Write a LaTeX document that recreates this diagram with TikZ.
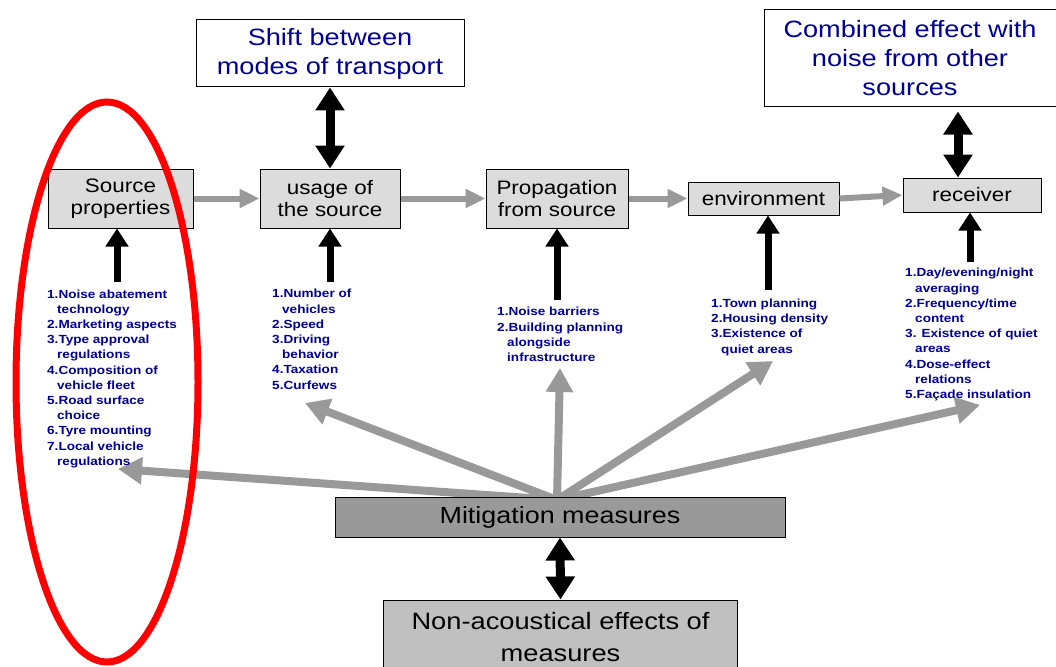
\documentclass[tikz,border=0pt]{standalone}
\usepackage{fontspec}
\setmainfont[FakeStretch=1.15]{Liberation Sans}
\usetikzlibrary{arrows.meta}
\definecolor{lblue}{RGB}{0,0,153}
\definecolor{boxgray}{RGB}{220,220,220}
\definecolor{arrgray}{RGB}{153,153,153}
\definecolor{mitgray}{RGB}{153,153,153}
\definecolor{nongray}{RGB}{192,192,192}
\pgfdeclarelayer{bg}
\pgfsetlayers{bg,main}
\begin{document}
\begin{tikzpicture}[x=1pt,y=-1pt,
  box/.style={draw=black, line width=1pt, fill=boxgray, inner sep=0pt, align=center, font=\fontsize{19.5}{22.5}\selectfont},
  wbox/.style={draw=black, line width=1pt, fill=white, inner sep=0pt, align=center, text=lblue, font=\fontsize{23.6}{29}\selectfont},
  garr/.style={draw=arrgray, line width=6pt, -{Triangle[width=18pt,length=20pt]}},
  marr/.style={draw=arrgray, line width=8pt, -{Triangle[width=26pt,length=24pt]}},
  barr/.style={draw=black, line width=7pt, -{Triangle[width=22pt,length=18pt]}},
  dbl/.style={draw=black, line width=9pt, {Triangle[width=28pt,length=23pt]}-{Triangle[width=28pt,length=23pt]}},
  lst/.style={text=lblue, font=\fontsize{11.8}{15.2}\selectfont\bfseries, align=left, inner sep=0pt, anchor=base west},
  ring/.style={draw=red, line width=7pt}
]
\useasboundingbox (0,0) rectangle (1056,666);
\clip (0,0) rectangle (1056,666);

% boxes
\node[box, minimum width=145pt, minimum height=59pt] (src) at (120.5,198.5) {Source\\properties};
\node[box, minimum width=140pt, minimum height=59pt] (use) at (330,198.5) {usage of\\the source};
\node[box, minimum width=142pt, minimum height=59pt] (prop) at (557,198.5) {Propagation\\from source};
\node[box, minimum width=151pt, minimum height=33pt] (env) at (763.5,198.5) {environment};
\node[box, minimum width=138pt, minimum height=34pt] (rec) at (972,195) {receiver};
\node[wbox, minimum width=268pt, minimum height=67pt] (shift) at (330,53.5) {Shift between\\modes of transport};
\node[wbox, minimum width=292pt, minimum height=97pt] (comb) at (910,58.5) {Combined effect with\\noise from other\\sources};
\node[box, fill=mitgray, minimum width=450pt, minimum height=40pt, font=\fontsize{23.4}{28}\selectfont] (mit) at (560,517) {Mitigation measures};
\node[box, fill=nongray, minimum width=354pt, minimum height=74pt, font=\fontsize{23.7}{32}\selectfont] (non) at (560.5,637) {Non-acoustical effects of\\measures};

% lists (anchored at the baseline of their last line)
\node[lst] (l1) at (47,465.2) {1.Noise abatement\\\hspace*{10pt}technology\\2.Marketing aspects\\3.Type approval\\\hspace*{10pt}regulations\\4.Composition of\\\hspace*{10pt}vehicle fleet\\5.Road surface\\\hspace*{10pt}choice\\6.Tyre mounting\\7.Local vehicle\\\hspace*{10pt}regulations};
\node[lst] (l2) at (272,389) {1.Number of\\\hspace*{10pt}vehicles\\2.Speed\\3.Driving\\\hspace*{10pt}behavior\\4.Taxation\\5.Curfews};
\node[lst] (l3) at (497,361.5) {1.Noise barriers\\2.Building planning\\\hspace*{10pt}alongside\\\hspace*{10pt}infrastructure};
\node[lst] (l4) at (711,353) {1.Town planning\\2.Housing density\\3.Existence of\\\hspace*{10pt}quiet areas};
\node[lst] (l5) at (905,398.5) {1.Day/evening/night\\\hspace*{10pt}averaging\\2.Frequency/time\\\hspace*{10pt}content\\3. Existence of quiet\\\hspace*{10pt}areas\\4.Dose-effect\\\hspace*{10pt}relations\\5.Façade insulation};

% flow arrows
\draw[garr] (src.east) -- (use.west);
\draw[garr] (use.east) -- (prop.west);
\draw[garr] (prop.east) -- (env.west);
\draw[garr] (env.east) -- (rec.west);

% double arrows
\draw[dbl] ([yshift=-4pt]comb.south -| 958,0) -- (rec.north -| 958,0);
\draw[dbl] (shift.south) -- (use.north);
\draw[dbl] (mit.south) -- (non.north);

% list to box arrows
\coordinate (a1) at (117,282);
\coordinate (a2) at (330,282);
\coordinate (a3) at (557,300);
\coordinate (a4) at (768,290);
\coordinate (a5) at (970,262);
\draw[barr] (a1) -- (a1 |- src.south);
\draw[barr] (a2) -- (a2 |- use.south);
\draw[barr] (a3) -- (a3 |- prop.south);
\draw[barr] (a4) -- (a4 |- env.south);
\draw[barr] (a5) -- (a5 |- rec.south);

% mitigation arrows
\coordinate (m0) at (557,500);
\coordinate (t1) at (118,469);
\coordinate (t2) at (305,403);
\coordinate (t3) at (560,368);
\coordinate (t4) at (773,361);
\coordinate (t5) at (980,405);
\begin{pgfonlayer}{bg}
\draw[marr] (m0) -- (t1);
\draw[marr] (m0) -- (t2);
\draw[marr] (m0) -- (t3);
\draw[marr] (m0) -- (t4);
\draw[marr] (m0) -- (t5);
\end{pgfonlayer}

% red ellipse
\draw[ring] (107,382) ellipse [x radius=91, y radius=280];
\end{tikzpicture}
\end{document}
